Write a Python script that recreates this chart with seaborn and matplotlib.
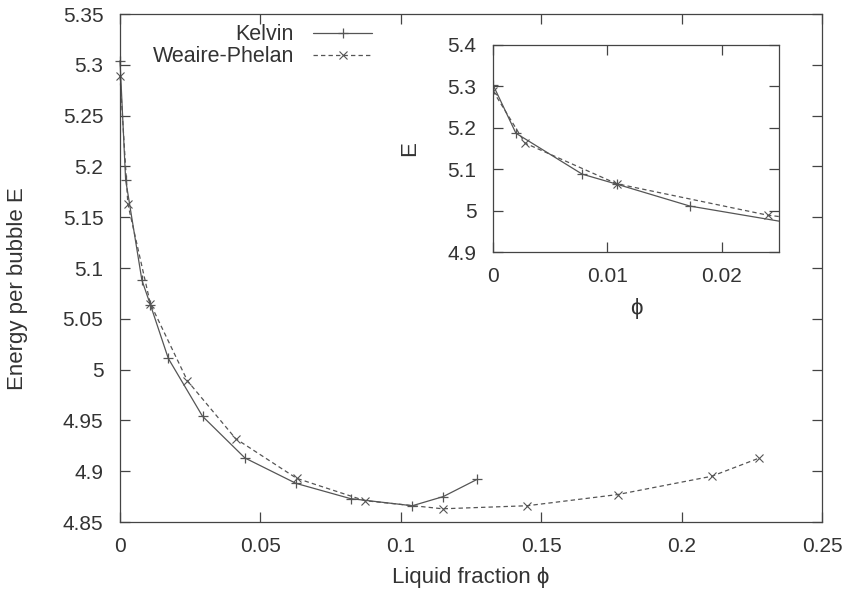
import matplotlib
matplotlib.use("Agg")
import matplotlib.pyplot as plt
import seaborn as sns
import pandas as pd
from matplotlib.ticker import FuncFormatter

# Data
kelvin_phi = [0.0, 0.0020, 0.0078, 0.0108, 0.0172, 0.0294, 0.0445, 0.0627, 0.0821, 0.1041, 0.1151, 0.1272]
kelvin_E = [5.304, 5.187, 5.088, 5.064, 5.011, 4.954, 4.913, 4.888, 4.873, 4.866, 4.875, 4.892]
wp_phi = [0.0, 0.0028, 0.0108, 0.0240, 0.0412, 0.0629, 0.0872, 0.1149, 0.1450, 0.1772, 0.2107, 0.2277]
wp_E = [5.289, 5.163, 5.065, 4.989, 4.932, 4.893, 4.871, 4.863, 4.866, 4.877, 4.895, 4.913]

main_xticks = [0, 0.05, 0.10, 0.15, 0.20, 0.25]
main_yticks = [4.85, 4.90, 4.95, 5.00, 5.05, 5.10, 5.15, 5.20, 5.25, 5.30, 5.35]
inset_xticks = [0, 0.01, 0.02]
inset_yticks = [4.9, 5.0, 5.1, 5.2, 5.3, 5.4]

kelvin = pd.DataFrame({"phi": kelvin_phi, "E": kelvin_E})
wp = pd.DataFrame({"phi": wp_phi, "E": wp_E})

sns.set_style("ticks")
plt.rcParams["font.family"] = ["Liberation Sans", "DejaVu Sans"]
plt.rcParams["font.size"] = 15

TXT = "#333333"
LC = "#555555"
FS = 15

fig = plt.figure(figsize=(8.5, 5.89), dpi=100)
ax = fig.add_axes([120 / 850, 1 - 522 / 589, 702 / 850, 508 / 589])


def gfmt(v, pos):
    return "%g" % round(v, 4)


def draw(a, clip, ms=7.5):
    sns.lineplot(data=kelvin, x="phi", y="E", ax=a, sort=False, estimator=None,
                 color=LC, lw=0.9, marker="+", markersize=ms, markeredgewidth=0.9,
                 markeredgecolor=LC, label="Kelvin", clip_on=clip)
    sns.lineplot(data=wp, x="phi", y="E", ax=a, sort=False, estimator=None,
                 color=LC, lw=0.9, linestyle=(0, (3.5, 2.5)), marker="x", markersize=ms * 0.8,
                 markeredgewidth=0.8, markeredgecolor=LC, label="Weaire-Phelan", clip_on=clip)


def style(a):
    for s in a.spines.values():
        s.set_visible(True)
        s.set_color("#444444")
        s.set_linewidth(0.9)
    a.tick_params(direction="in", top=True, right=True, length=7, width=0.9,
                  colors="#444444", labelcolor=TXT, labelsize=FS)
    a.tick_params(axis="y", pad=12)
    a.tick_params(axis="x", pad=11)
    a.xaxis.set_major_formatter(FuncFormatter(gfmt))
    a.yaxis.set_major_formatter(FuncFormatter(gfmt))


draw(ax, False)
ax.set_xlim(0, 0.25)
ax.set_ylim(4.85, 5.35)
ax.set_xticks(main_xticks)
ax.set_yticks(main_yticks)
style(ax)
ax.set_xlabel("Liquid fraction ϕ", color=TXT, fontsize=FS + 1)
ax.set_ylabel("Energy per bubble E", color=TXT, fontsize=FS + 1)
ax.xaxis.set_label_coords(0.5, -0.088)
ax.yaxis.set_label_coords(-0.131, 0.46)

h, l = ax.get_legend_handles_labels()
ax.legend(h, l, loc="upper right", bbox_to_anchor=(0.386, 1.018), frameon=False,
          markerfirst=False, handlelength=2.7, fontsize=FS + 0.5, labelspacing=0.05,
          labelcolor=TXT, handletextpad=0.9)

ins = fig.add_axes([493 / 850, 1 - 252 / 589, 286 / 850, 207 / 589])
draw(ins, True)
ins.set_xlim(0, 0.025)
ins.set_ylim(4.9, 5.4)
ins.set_xticks(inset_xticks)
ins.set_yticks(inset_yticks)
style(ins)
ins.set_facecolor("white")
ins.set_xlabel("ϕ", color=TXT, fontsize=FS + 1)
ins.set_ylabel("E", color=TXT, fontsize=FS + 1)
ins.xaxis.set_label_coords(0.503, -0.222)
ins.yaxis.set_label_coords(-0.255, 0.5)
if ins.get_legend() is not None:
    ins.get_legend().remove()

fig.savefig("out.png", dpi=100, facecolor="white")
